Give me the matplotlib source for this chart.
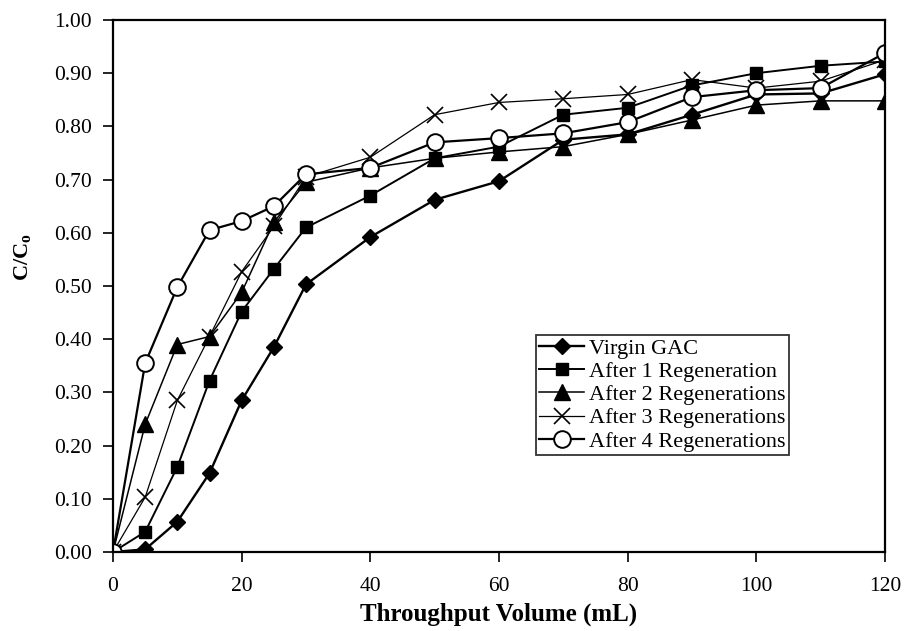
import matplotlib
matplotlib.use('Agg')
import matplotlib.pyplot as plt
from matplotlib.ticker import FormatStrFormatter

plt.rcParams['font.family'] = ['Liberation Serif', 'DejaVu Serif']
plt.rcParams['mathtext.default'] = 'regular'

# Throughput volume (mL)
volume = [0, 5, 10, 15, 20, 25, 30, 40, 50, 60, 70, 80, 90, 100, 110, 120]

# C/Co for each carbon
virgin_gac = [0, 0.005, 0.057, 0.148, 0.285, 0.385, 0.503, 0.592, 0.662, 0.697,
              0.775, 0.785, 0.822, 0.860, 0.862, 0.898]
after_1 = [0, 0.038, 0.160, 0.322, 0.452, 0.532, 0.610, 0.670, 0.740, 0.762,
           0.822, 0.835, 0.877, 0.900, 0.914, 0.922]
after_2 = [0, 0.240, 0.390, 0.405, 0.488, 0.620, 0.695, 0.722, 0.740, 0.752,
           0.762, 0.785, 0.812, 0.840, 0.848, 0.848]
after_3 = [0, 0.103, 0.285, 0.405, 0.527, 0.612, 0.705, 0.742, 0.822, 0.845,
           0.852, 0.860, 0.888, 0.872, 0.885, 0.925]
after_4 = [0, 0.355, 0.498, 0.605, 0.622, 0.650, 0.710, 0.722, 0.770, 0.778,
           0.787, 0.808, 0.855, 0.868, 0.872, 0.938]

labels = ['Virgin GAC', 'After 1 Regeneration', 'After 2 Regenerations',
          'After 3 Regenerations', 'After 4 Regenerations']

fig = plt.figure(figsize=(9.07, 6.31), dpi=100)
ax = fig.add_axes([0.1246, 0.1252, 0.8511, 0.8431])

ax.plot(volume, virgin_gac, color='black', lw=1.7, marker='D', ms=8,
        label=labels[0])
ax.plot(volume, after_1, color='black', lw=1.4, marker='s', ms=9,
        label=labels[1])
ax.plot(volume, after_2, color='black', lw=1.1, marker='^', ms=11,
        label=labels[2])
ax.plot(volume, after_3, color='black', lw=0.9, marker='x', ms=11, mew=1.2,
        label=labels[3])
ax.plot(volume, after_4, color='black', lw=1.6, marker='o', ms=12, mew=1.4,
        mfc='white', label=labels[4])

ax.set_xlim(0, 120)
ax.set_ylim(0, 1.0)
ax.set_xticks(range(0, 121, 20))
ax.set_yticks([i / 10 for i in range(11)])
ax.yaxis.set_major_formatter(FormatStrFormatter('%.2f'))
ax.tick_params(direction='out', length=7, width=1.2, labelsize=15.5, pad=8)
ax.tick_params(axis='x', pad=11)
for s in ax.spines.values():
    s.set_linewidth(1.6)

ax.set_xlabel('Throughput Volume (mL)', fontsize=18, fontweight='bold', labelpad=5)
ax.set_ylabel('C/C$_{o}$', fontsize=16, fontweight='bold')
ax.yaxis.set_label_coords(-0.104, 0.555)

leg = ax.legend(loc='upper left', bbox_to_anchor=(0.548, 0.408), fontsize=16,
                frameon=True, fancybox=False, edgecolor='black', handlelength=2.0,
                handletextpad=0.25, labelspacing=0.12, borderpad=0.15,
                borderaxespad=0)
leg.get_frame().set_linewidth(1.3)

plt.savefig('out.png', dpi=100)
plt.close(fig)
